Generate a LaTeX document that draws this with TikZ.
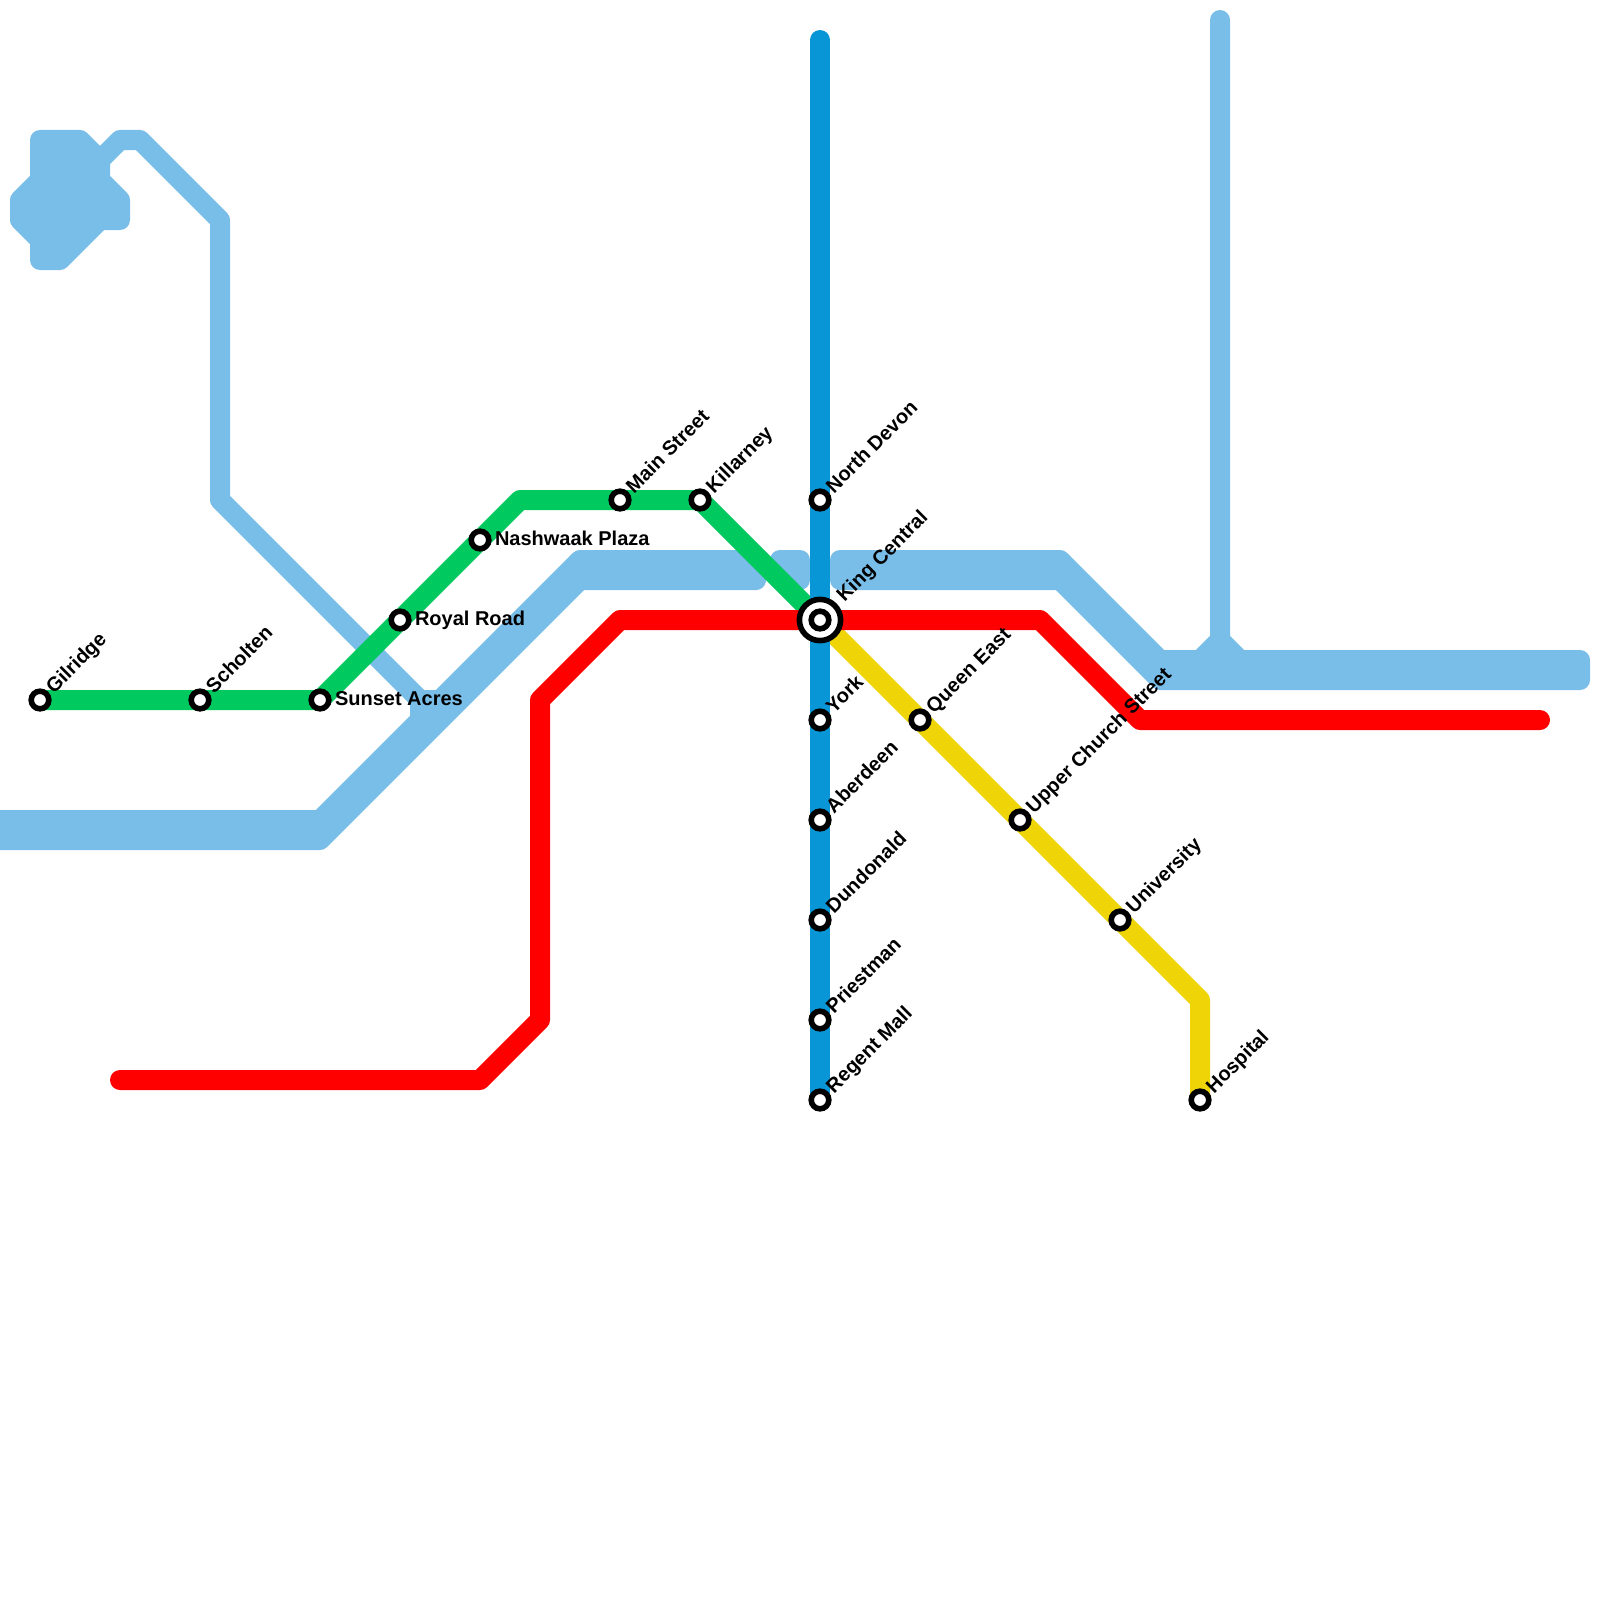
\documentclass[tikz,border=0pt]{standalone}
\usepackage{fontspec}
\setmainfont{Liberation Sans}
\pgfdeclarelayer{under}
\pgfsetlayers{under,main}
\definecolor{skyc}{HTML}{79BDE9}
\definecolor{bluec}{HTML}{0896D7}
\definecolor{greenc}{HTML}{00C95F}
\definecolor{redc}{HTML}{FF0000}
\definecolor{yellowc}{HTML}{EFD407}
\tikzset{
  x=0.5pt,y=-0.5pt,
  route/.style={line width=10pt,line cap=round,line join=round},
  blob/.style={route,draw=skyc,fill=skyc},
  stn/.style={circle,draw=black,fill=white,line width=2.8pt,minimum size=8.8pt,inner sep=0pt,outer sep=0pt},
  hub/.style={circle,draw=black,fill=white,line width=2.8pt,minimum size=20.6pt,inner sep=0pt,outer sep=0pt},
  lab/.style={font=\bfseries\fontsize{10pt}{12pt}\selectfont,text=black,inner sep=0pt,outer sep=0pt},
  lblr/.style={lab,shift={(15,5.2)},anchor=base west},
  lbla/.style={lab,shift={(14,-6)},anchor=base west,rotate=45},
}
\begin{document}
\begin{tikzpicture}
\useasboundingbox (0,0) rectangle (1600,1600);
% stations
\node[hub] (kingring) at (820,620) {};
\node[stn] (gil) at (40,700) {};
\node[stn] (sch) at (200,700) {};
\node[stn] (sun) at (320,700) {};
\node[stn] (roy) at (400,620) {};
\node[stn] (nas) at (480,540) {};
\node[stn] (mai) at (620,500) {};
\node[stn] (kil) at (700,500) {};
\node[stn] (kin) at (820,620) {};
\node[stn] (nor) at (820,500) {};
\node[stn] (yor) at (820,720) {};
\node[stn] (abe) at (820,820) {};
\node[stn] (dun) at (820,920) {};
\node[stn] (pri) at (820,1020) {};
\node[stn] (reg) at (820,1100) {};
\node[stn] (que) at (920,720) {};
\node[stn] (upp) at (1020,820) {};
\node[stn] (uni) at (1120,920) {};
\node[stn] (hos) at (1200,1100) {};
% labels
\node[lbla] (gil-l) at (gil) {Gilridge};
\node[lbla] (sch-l) at (sch) {Scholten};
\node[lblr] (sun-l) at (sun) {Sunset Acres};
\node[lblr] (roy-l) at (roy) {Royal Road};
\node[lblr] (nas-l) at (nas) {Nashwaak Plaza};
\node[lbla] (mai-l) at (mai) {Main Street};
\node[lbla] (kil-l) at (kil) {Killarney};
\node[lab,shift={(24.7,-17.3)},anchor=base west,rotate=45] (kin-l) at (kin) {King Central};
\node[lbla] (nor-l) at (nor) {North Devon};
\node[lbla] (yor-l) at (yor) {York};
\node[lbla] (abe-l) at (abe) {Aberdeen};
\node[lbla] (dun-l) at (dun) {Dundonald};
\node[lbla] (pri-l) at (pri) {Priestman};
\node[lbla] (reg-l) at (reg) {Regent Mall};
\node[lbla] (que-l) at (que) {Queen East};
\node[lbla] (upp-l) at (upp) {Upper Church Street};
\node[lbla] (uni-l) at (uni) {University};
\node[lbla] (hos-l) at (hos) {Hospital};
% free ends and bends
\coordinate (r0) at (120,1080);
\coordinate (r1) at (480,1080);
\coordinate (r2) at (540,1020);
\coordinate (r3) at (540,700);
\coordinate (r4) at (620,620);
\coordinate (r5) at (1040,620);
\coordinate (r6) at (1140,720);
\coordinate (r7) at (1540,720);
\coordinate (g1) at (520,500);
\coordinate (b0) at (820,40);
\coordinate (y1) at (1200,1000);
\coordinate (t0) at (100,160);
\coordinate (t1) at (120,140);
\coordinate (t2) at (140,140);
\coordinate (t3) at (220,220);
\coordinate (t4) at (220,500);
\coordinate (t5) at (420,700);
\coordinate (t6) at (440,700);
\coordinate (t7) at (420,720);
\coordinate (s0) at (1220,20);
\coordinate (s1) at (1220,640);
\coordinate (s2) at (1200,660);
\coordinate (s3) at (1240,660);
\begin{pgfonlayer}{under}
\fill[white] (0,0) rectangle (1600,1600);
\begin{scope}
\clip (0,0) rectangle (1600,1600);
% light-blue network
\draw[blob] (40,140) -- (80,140) -- (100,160) -- (100,180) -- (120,200) -- (120,220) -- (100,220) -- (60,260) -- (40,260) -- (40,240) -- (20,220) -- (20,200) -- (40,180) -- cycle;
\draw[route,draw=skyc] (t0) -- (t1) -- (t2) -- (t3) -- (t4) -- (t5) -- (t6);
\draw[route,draw=skyc] (t7) -- (t5);
\draw[blob] (-20,820) -- (320,820) -- (580,560) -- (760,560) -- (756,580) -- (580,580) -- (320,840) -- (-20,840) -- cycle;
\draw[blob] (780,560) -- (800,560) -- (800,580) -- (780,580) -- cycle;
\draw[blob] (840,560) -- (1060,560) -- (1160,660) -- (1580,660) -- (1580,680) -- (1160,680) -- (1060,580) -- (840,580) -- cycle;
\draw[route,draw=skyc] (s0) -- (s1) -- (s2);
\draw[route,draw=skyc] (s1) -- (s3);
% lines
\draw[route,draw=greenc] (gil.center) -- (sch.center) -- (sun.center) -- (roy.center) -- (nas.center) -- (g1) -- (mai.center) -- (kil.center) -- (kin.center);
\draw[route,draw=yellowc] (kin.center) -- (que.center) -- (upp.center) -- (uni.center) -- (y1) -- (hos.center);
\draw[route,draw=bluec] (b0) -- (nor.center) -- (kin.center) -- (yor.center) -- (abe.center) -- (dun.center) -- (pri.center) -- (reg.center);
\draw[route,draw=redc] (r0) -- (r1) -- (r2) -- (r3) -- (r4) -- (kin.center) -- (r5) -- (r6) -- (r7);
\end{scope}
\end{pgfonlayer}
\end{tikzpicture}
\end{document}
